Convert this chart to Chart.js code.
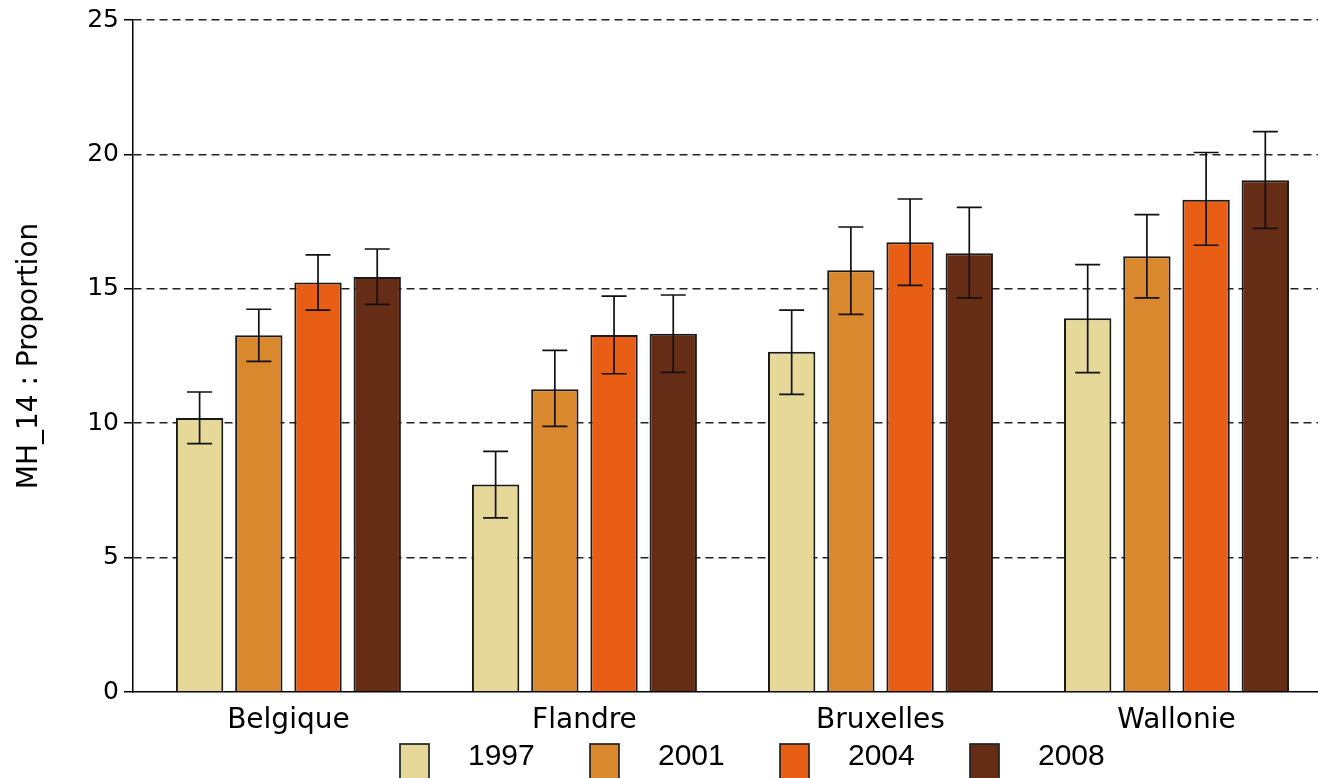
<!DOCTYPE html>
<html>
<head>
<meta charset="utf-8">
<title>MH_14 : Proportion</title>
<script src="https://cdn.jsdelivr.net/npm/chart.js@4.4.1/dist/chart.umd.min.js"></script>
<style>
  html, body { margin: 0; padding: 0; background: #fff; overflow: hidden; }
  #wrap { width: 1318px; height: 778px; }
</style>
</head>
<body>
<div id="wrap"><canvas id="chart"></canvas></div>
<script>
// Données
const regions = ['Belgique', 'Flandre', 'Bruxelles', 'Wallonie'];
const years = ['1997', '2001', '2004', '2008'];
const yTicks = [0, 5, 10, 15, 20, 25];

const v1997 = [10.19, 7.72, 12.66, 13.9];
const v2001 = [13.27, 11.26, 15.69, 16.21];
const v2004 = [15.23, 13.28, 16.73, 18.31];
const v2008 = [15.44, 13.33, 16.32, 19.04];

// Intervalles de confiance (bas / haut)
const lo1997 = [9.24, 6.48, 11.07, 11.88];
const hi1997 = [11.16, 8.95, 14.21, 15.9];
const lo2001 = [12.3, 9.88, 14.05, 14.66];
const hi2001 = [14.24, 12.71, 17.3, 17.76];
const lo2004 = [14.21, 11.84, 15.13, 16.62];
const hi2004 = [16.26, 14.73, 18.34, 20.07];
const lo2008 = [14.42, 11.89, 14.66, 17.25];
const hi2008 = [16.48, 14.77, 18.03, 20.85];

const colors = ['#e6d898', '#d9882e', '#e85e15', '#662d16'];

const values = [v1997, v2001, v2004, v2008];
const lows = [lo1997, lo2001, lo2004, lo2008];
const highs = [hi1997, hi2001, hi2004, hi2008];

document.addEventListener('DOMContentLoaded', function() {

    // Barres d'erreur
    const errorBars = {
        id: 'errorBars',
        afterDatasetsDraw(chart) {
            const ctx = chart.ctx;
            const yScale = chart.scales.y;
            ctx.save();
            ctx.strokeStyle = '#111';
            ctx.lineWidth = 1.7;
            chart.data.datasets.forEach((ds, i) => {
                const meta = chart.getDatasetMeta(i);
                meta.data.forEach((bar, j) => {
                    const top = yScale.getPixelForValue(ds.hi[j]);
                    const bottom = yScale.getPixelForValue(ds.lo[j]);
                    const half = 12.5;
                    ctx.beginPath();
                    ctx.moveTo(bar.x, top);
                    ctx.lineTo(bar.x, bottom);
                    ctx.moveTo(bar.x - half, top);
                    ctx.lineTo(bar.x + half, top);
                    ctx.moveTo(bar.x - half, bottom);
                    ctx.lineTo(bar.x + half, bottom);
                    ctx.stroke();
                });
            });
            ctx.restore();
        }
    };

    // Légende en bas (espacement comme l'original)
    const yearLegend = {
        id: 'yearLegend',
        afterDraw(chart) {
            const ctx = chart.ctx;
            ctx.save();
            ctx.font = '30px "Liberation Sans", Arial, sans-serif';
            ctx.textBaseline = 'middle';
            chart.data.datasets.forEach((ds, i) => {
                const x = 400 + i * 190;
                ctx.fillStyle = ds.backgroundColor;
                ctx.fillRect(x, 744, 29, 40);
                ctx.strokeStyle = '#222';
                ctx.lineWidth = 1.7;
                ctx.strokeRect(x, 744, 29, 40);
                ctx.fillStyle = '#000';
                ctx.fillText(ds.label, x + 68, 757);
            });
            ctx.restore();
        }
    };

    const ctx = document.getElementById('chart').getContext('2d');
    new Chart(ctx, {
        type: 'bar',
        data: {
            datasets: years.map((yr, i) => ({
                label: yr,
                data: values[i].map((v, j) => ({ x: j, y: v })),
                lo: lows[i],
                hi: highs[i],
                backgroundColor: colors[i],
                borderColor: '#1a1a1a',
                borderWidth: 2,
                borderSkipped: 'start',
                categoryPercentage: 0.8,
                barPercentage: 0.8
            }))
        },
        options: {
            responsive: true,
            maintainAspectRatio: false,
            animation: false,
            layout: { padding: { top: 18, right: 0, bottom: 0, left: 0 } },
            scales: {
                x: {
                    type: 'linear',
                    offset: false,
                    min: -0.525,
                    max: 3.478,
                    afterBuildTicks: axis => { axis.ticks = regions.map((r, i) => ({ value: i })); },
                    ticks: {
                        callback: v => regions[v],
                        font: { family: 'DejaVu Sans', size: 28 },
                        color: '#000',
                        padding: 4,
                        autoSkip: false,
                        maxRotation: 0
                    },
                    grid: { display: false, offset: false },
                    border: { color: '#000', width: 1.5 },
                    afterFit: s => { s.height = 86; }
                },
                y: {
                    min: 0,
                    max: 25,
                    z: 1,
                    afterBuildTicks: axis => { axis.ticks = yTicks.map(v => ({ value: v })); },
                    ticks: {
                        font: { family: 'DejaVu Sans', size: 25 },
                        color: '#000',
                        padding: 5
                    },
                    grid: {
                        color: c => (c.tick && c.tick.value === 0) ? 'rgba(0,0,0,0)' : '#222',
                        lineWidth: 1.5,
                        tickLength: 9,
                        tickColor: '#000',
                        tickWidth: 1.5
                    },
                    border: { color: '#000', width: 1.5, dash: [8, 5] },
                    title: {
                        display: true,
                        text: 'MH_14 : Proportion',
                        font: { family: 'DejaVu Sans', size: 28 },
                        color: '#000',
                        padding: { top: 13, bottom: 0 }
                    },
                    afterFit: s => { s.width = 133; }
                }
            },
            plugins: {
                legend: { display: false },
                tooltip: { enabled: false }
            }
        },
        plugins: [errorBars, yearLegend]
    });
});
</script>
</body>
</html>
